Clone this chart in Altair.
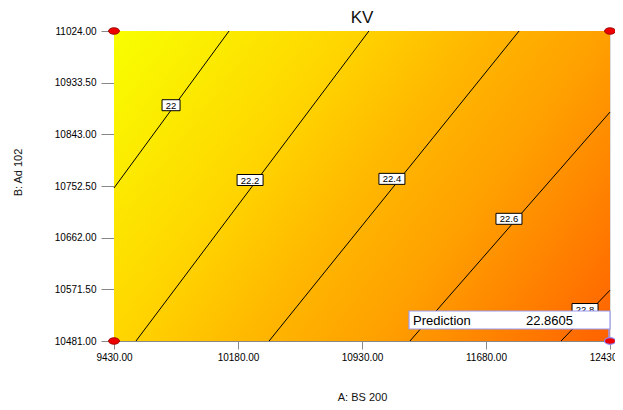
import altair as alt
import pandas as pd

# Axis ticks
x_ticks = [9430, 10180, 10930, 11680, 12430]
y_ticks = [10481, 10571.5, 10662, 10752.5, 10843, 10933.5, 11024]

# Design space
a_min, a_max = 9430, 12430
b_min, b_max = 10481, 11024

# Contour levels and their end points
levels = ["22", "22.2", "22.4", "22.6", "22.8"]
a_start = [9430, 9563, 10368, 11220, 12134]
b_start = [10749, 10481, 10481, 10481, 10481]
a_end = [10126, 10972, 11880, 12430, 12430]
b_end = [11024, 11024, 11024, 10882, 10570]

# Contour label positions
label_a = [9775, 10253, 11111, 11819, 12279]
label_b = [10894, 10763, 10765, 10695, 10537]

# Design points
pt_a = [9430, 9430, 12430]
pt_b = [10481, 11024, 11024]

# Prediction
pred_a = [12430]
pred_b = [10481]
pred_val = [22.8605]

FONT = "Liberation Sans"

bg_df = pd.DataFrame({"a": [a_min], "a2": [a_max], "b": [b_min], "b2": [b_max]})
xs = alt.Scale(domain=[a_min, a_max], nice=False, zero=False)
ys = alt.Scale(domain=[b_min, b_max], nice=False, zero=False)

X = alt.X("a:Q", scale=xs, axis=alt.Axis(
    values=x_ticks, format=".2f", title="A: BS 200", grid=False,
    tickSize=8, labelPadding=3, titleY=59, titleBaseline="alphabetic",
    titleFontSize=11, titleFontWeight="normal", titleFont=FONT, titleColor="#111",
    labelFlush=False, labelOverlap=False))
Y = alt.Y("b:Q", scale=ys, axis=alt.Axis(
    values=y_ticks, format=".2f", title="B: Ad 102", grid=False,
    tickSize=13, labelPadding=5, titleX=-96, titleY=141, titleAngle=-90,
    titleAlign="center", titleBaseline="middle",
    titleFontSize=11, titleFontWeight="normal", titleFont=FONT, titleColor="#111",
    labelFlush=False, labelOverlap=False))

grad = alt.Gradient(
    gradient="linear",
    stops=[
        alt.GradientStop(color="#f8ff00", offset=0),
        alt.GradientStop(color="#ffd600", offset=0.32),
        alt.GradientStop(color="#ffb800", offset=0.5),
        alt.GradientStop(color="#ffa000", offset=0.68),
        alt.GradientStop(color="#ff6200", offset=1),
    ],
    x1=0, y1=0, x2=1.204, y2=0.566,
)

bg = alt.Chart(bg_df).mark_rect(color=grad).encode(
    x=X, x2="a2:Q", y=Y, y2="b2:Q")

# contour lines as segments
rows = []
for lv, a0, b0, a1, b1 in zip(levels, a_start, b_start, a_end, b_end):
    rows.append({"level": lv, "a": a0, "b": b0, "o": 0})
    rows.append({"level": lv, "a": a1, "b": b1, "o": 1})
line_df = pd.DataFrame(rows)
lines = alt.Chart(line_df).mark_line(color="black", strokeWidth=1).encode(
    x=alt.X("a:Q", scale=xs), y=alt.Y("b:Q", scale=ys),
    detail="level:N", order="o:Q")

lab_df = pd.DataFrame({"level": levels, "a": label_a, "b": label_b})
lab_df["w"] = [18 if len(l) <= 2 else 26 for l in levels]
boxes_short = alt.Chart(lab_df[lab_df["w"] == 18]).mark_rect(
    width=18, height=11, fill="white", stroke="black", strokeWidth=1).encode(
    x=alt.X("a:Q", scale=xs), y=alt.Y("b:Q", scale=ys))
boxes_long = alt.Chart(lab_df[lab_df["w"] == 26]).mark_rect(
    width=26, height=11, fill="white", stroke="black", strokeWidth=1).encode(
    x=alt.X("a:Q", scale=xs), y=alt.Y("b:Q", scale=ys))
lab_text = alt.Chart(lab_df).mark_text(
    font=FONT, fontSize=9.5, color="black", baseline="middle", dy=0.5).encode(
    x=alt.X("a:Q", scale=xs), y=alt.Y("b:Q", scale=ys), text="level:N")

pred_df = pd.DataFrame({"a": pred_a, "b": pred_b, "v": pred_val})
pred_box = alt.Chart(pred_df).mark_rect(
    width=201, height=18, xOffset=-100.5, yOffset=-21,
    fill="white", stroke="#9a9af0", strokeWidth=1.2).encode(
    x=alt.X("a:Q", scale=xs), y=alt.Y("b:Q", scale=ys))
pred_rule = alt.Chart(pred_df).mark_rule(
    color="#9a9af0", strokeWidth=1.5, y2Offset=-12, xOffset=-1).encode(
    x=alt.X("a:Q", scale=xs), y=alt.Y("b:Q", scale=ys), y2="b:Q")
pred_label = alt.Chart(pred_df).mark_text(
    font=FONT, fontSize=13, align="left", baseline="middle", dx=-197, dy=-20,
    color="black").encode(
    x=alt.X("a:Q", scale=xs), y=alt.Y("b:Q", scale=ys), text=alt.value("Prediction"))
pred_value = alt.Chart(pred_df).mark_text(
    font=FONT, fontSize=13, align="right", baseline="middle", dx=-37, dy=-20,
    color="black").encode(
    x=alt.X("a:Q", scale=xs), y=alt.Y("b:Q", scale=ys),
    text=alt.Text("v:Q", format=".4f"))

ELLIPSE = "M-1,0A1,0.6,0,1,1,1,0A1,0.6,0,1,1,-1,0Z"
pt_df = pd.DataFrame({"a": pt_a, "b": pt_b})
pts = alt.Chart(pt_df).mark_point(
    shape=ELLIPSE, size=121, filled=True, fill="#ee0000", stroke="#8a0000",
    strokeWidth=0.8, opacity=1).encode(
    x=alt.X("a:Q", scale=xs), y=alt.Y("b:Q", scale=ys))
pred_pt = alt.Chart(pred_df).mark_point(
    shape=ELLIPSE, size=121, filled=True, fill="#ee0000", stroke="#8a8aff",
    strokeWidth=1.2, opacity=1).encode(
    x=alt.X("a:Q", scale=xs), y=alt.Y("b:Q", scale=ys))

chart = alt.layer(
    bg, lines, boxes_short, boxes_long, lab_text,
    pred_rule, pred_box, pred_label, pred_value, pts, pred_pt
).properties(
    width=496, height=310,
    title=alt.TitleParams(text="KV", font=FONT, fontSize=17, fontWeight="normal",
                          color="#111", anchor="middle", offset=2, dy=3),
    autosize=alt.AutoSizeParams(type="none"),
    padding={"left": 106, "top": 23, "right": 5, "bottom": 61},
).configure_view(
    stroke="#444", strokeWidth=1
).configure_axis(
    labelFont=FONT, labelFontSize=9, labelColor="#333",
    domainColor="black", tickColor="black", domainWidth=1, tickWidth=1,
).configure(background="white")

chart.save("out.html", embed_options={"renderer": "svg", "actions": False})
